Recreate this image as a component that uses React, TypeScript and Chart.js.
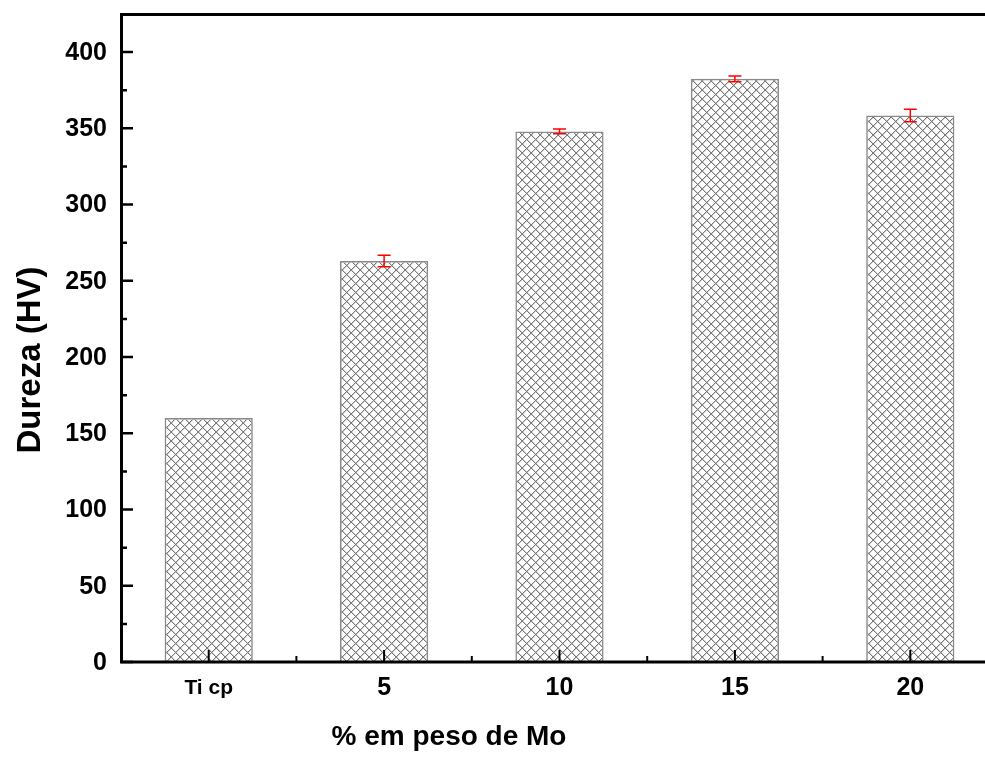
import React, { useEffect, useRef } from "react";
import { Chart, registerables } from "chart.js";

Chart.register(...registerables);

const categories = ["Ti cp", "5", "10", "15", "20"];
const hardness = [160, 263, 348, 382.5, 358.5];
const hardnessError = [0, 3.7, 1.6, 1.9, 4.1];
const yTicks = [0, 50, 100, 150, 200, 250, 300, 350, 400];
const yMinorTicks = [25, 75, 125, 175, 225, 275, 325, 375];
const yTitle = "Dureza (HV)";
const xTitle = "% em peso de Mo";

const FONT = '"Liberation Sans", Arial, sans-serif';

function makePattern(): CanvasPattern | string {
  const pc = document.createElement("canvas");
  const n = 9;
  pc.width = n;
  pc.height = n;
  const c = pc.getContext("2d");
  if (!c) return "#ccc";
  c.fillStyle = "#7a7a7a";
  for (let i = 0; i < n; i++) {
    c.fillRect(i, i, 1, 1);
    c.fillRect(n - 1 - i, i, 1, 1);
  }
  c.fillStyle = "rgba(122,122,122,0.35)";
  for (let i = 0; i < n; i++) {
    c.fillRect((i + 1) % n, i, 1, 1);
    c.fillRect((n - i) % n, i, 1, 1);
  }
  const p = c.createPattern(pc, "repeat");
  return p || "#ccc";
}

export default function App() {
  const ref = useRef<HTMLCanvasElement>(null);

  useEffect(() => {
    const canvas = ref.current;
    if (!canvas) return;
    const pattern = makePattern();

    const decor = {
      id: "decor",
      afterDatasetsDraw(chart: any) {
        const ctx = chart.ctx;
        const xs = chart.scales.x;
        const ys = chart.scales.y;
        // error bars
        ctx.save();
        ctx.strokeStyle = "#ff0000";
        ctx.lineWidth = 1.5;
        hardness.forEach((v, i) => {
          const e = hardnessError[i];
          if (!e) return;
          const x = xs.getPixelForValue(i);
          const yHi = ys.getPixelForValue(v + e);
          const yLo = ys.getPixelForValue(v - e);
          ctx.beginPath();
          ctx.moveTo(x, yHi);
          ctx.lineTo(x, yLo);
          ctx.moveTo(x - 6.5, yHi);
          ctx.lineTo(x + 6.5, yHi);
          ctx.moveTo(x - 6.5, yLo);
          ctx.lineTo(x + 6.5, yLo);
          ctx.stroke();
        });
        ctx.restore();
      },
      afterDraw(chart: any) {
        const ctx = chart.ctx;
        const xs = chart.scales.x;
        const ys = chart.scales.y;
        const { left, right, top, bottom } = chart.chartArea;
        ctx.save();
        ctx.strokeStyle = "#000";
        ctx.fillStyle = "#000";
        // frame
        ctx.lineWidth = 3;
        ctx.beginPath();
        ctx.moveTo(left + 0.5, bottom + 1);
        ctx.lineTo(left + 0.5, top - 1);
        ctx.moveTo(left - 1, top + 0.5);
        ctx.lineTo(right, top + 0.5);
        ctx.moveTo(left - 1, bottom);
        ctx.lineTo(right, bottom);
        ctx.moveTo(right - 1, top);
        ctx.lineTo(right - 1, bottom);
        ctx.stroke();
        // y ticks
        ctx.lineWidth = 2.5;
        ctx.beginPath();
        yTicks.forEach((t) => {
          const y = ys.getPixelForValue(t);
          ctx.moveTo(left, y);
          ctx.lineTo(left + 12, y);
        });
        yMinorTicks.forEach((t) => {
          const y = ys.getPixelForValue(t);
          ctx.moveTo(left, y);
          ctx.lineTo(left + 6, y);
        });
        ctx.stroke();
        // x ticks
        ctx.lineWidth = 2;
        ctx.beginPath();
        categories.forEach((_, i) => {
          const x = xs.getPixelForValue(i);
          ctx.moveTo(x, bottom);
          ctx.lineTo(x, bottom - 12);
          if (i < categories.length - 1) {
            const xm = (x + xs.getPixelForValue(i + 1)) / 2;
            ctx.moveTo(xm, bottom);
            ctx.lineTo(xm, bottom - 6);
          }
        });
        ctx.stroke();
        // y labels
        ctx.font = `bold 25px ${FONT}`;
        ctx.textAlign = "right";
        ctx.textBaseline = "middle";
        yTicks.forEach((t) => {
          ctx.fillText(String(t), left - 14, ys.getPixelForValue(t) + 1);
        });
        // x labels
        ctx.textAlign = "center";
        categories.forEach((c, i) => {
          ctx.font = i === 0 ? `bold 21px ${FONT}` : `bold 25px ${FONT}`;
          ctx.fillText(c, xs.getPixelForValue(i), bottom + 26);
        });
        // titles
        ctx.font = `bold 28px ${FONT}`;
        ctx.textAlign = "center";
        ctx.fillText(xTitle, 449, 737);
        ctx.save();
        ctx.translate(31, 360);
        ctx.rotate(-Math.PI / 2);
        ctx.font = `bold 33px ${FONT}`;
        ctx.fillText(yTitle, 0, 0);
        ctx.restore();
        ctx.restore();
      },
    };

    const chart = new Chart(canvas, {
      type: "bar",
      data: {
        labels: categories,
        datasets: [
          {
            data: hardness,
            backgroundColor: pattern as any,
            borderColor: "#8a8a8a",
            borderWidth: 1.5,
            categoryPercentage: 1,
            barPercentage: 0.503,
          },
        ],
      },
      options: {
        animation: false,
        responsive: false,
        devicePixelRatio: 1,
        layout: { padding: { top: 14, left: 0, right: 0, bottom: 0 } },
        plugins: { legend: { display: false }, tooltip: { enabled: false } },
        scales: {
          x: {
            grid: { display: false },
            border: { display: false },
            ticks: { display: false },
            afterFit: (s: any) => {
              s.height = 98;
            },
          },
          y: {
            min: 0,
            max: 425,
            grid: { display: false },
            border: { display: false },
            ticks: { display: false },
            afterFit: (s: any) => {
              s.width = 121;
            },
          },
        },
      },
      plugins: [decor],
    });
    return () => chart.destroy();
  }, []);

  return (
    <div
      style={{
        position: "fixed",
        left: 0,
        top: 0,
        width: 985,
        height: 760,
        overflow: "hidden",
        background: "#fff",
      }}
    >
      <canvas ref={ref} width={998} height={760} style={{ display: "block" }} />
    </div>
  );
}
